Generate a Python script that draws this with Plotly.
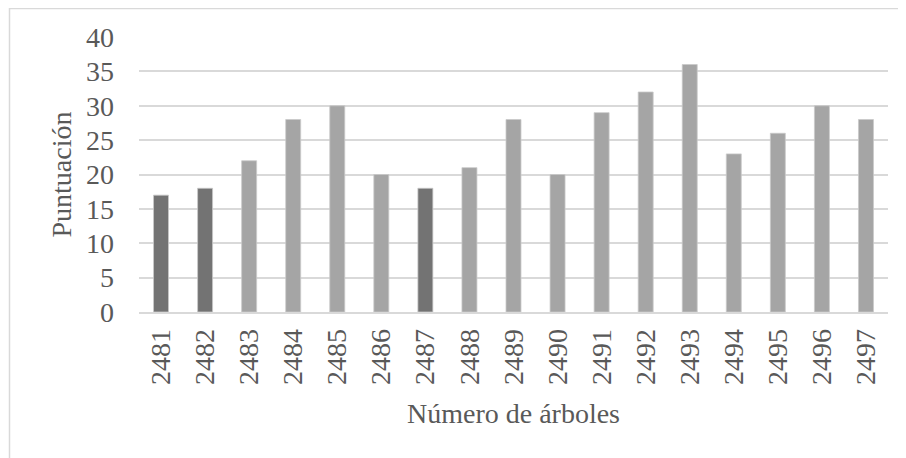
import plotly.graph_objects as go

categories = ["2481", "2482", "2483", "2484", "2485", "2486", "2487", "2488", "2489",
              "2490", "2491", "2492", "2493", "2494", "2495", "2496", "2497"]
values = [17, 18, 22, 28, 30, 20, 18, 21, 28, 20, 29, 32, 36, 23, 26, 30, 28]
highlighted = ["2481", "2482", "2487"]

dark = "#737373"
light = "#a5a5a5"
colors = [dark if c in highlighted else light for c in categories]

font_family = "Liberation Serif, Times New Roman, serif"
text_color = "#595959"

fig = go.Figure()
fig.add_trace(go.Bar(
    x=categories, y=values,
    marker=dict(color=colors, line=dict(color="#c9c9c9", width=0.8)),
    width=0.34,
))

W, H = 906, 458
# page body has an 8px offset, so margins are relative to the figure itself
ml, mr, mt, mb = 131, 26, 29, 154
pw = W - ml - mr
ph = H - mt - mb

def px_to_paper_x(px):
    return (px - ml) / pw

def px_to_paper_y(py):
    return (H - mb - py) / ph

fig.update_layout(
    width=W, height=H,
    margin=dict(l=ml, r=mr, t=mt, b=mb, pad=0),
    paper_bgcolor="white", plot_bgcolor="white",
    font=dict(family=font_family, size=28, color=text_color),
    showlegend=False,
    bargap=0.66,
    xaxis=dict(
        type="category",
        automargin=False,
        tickangle=-90,
        tickfont=dict(size=28, color=text_color),
        showgrid=False,
        showline=True, linecolor="#d9d9d9", linewidth=1.5,
        ticks="", ticklabelstandoff=4,
        title=dict(text="Número de árboles", font=dict(size=28, color=text_color), standoff=19),
    ),
    yaxis=dict(
        automargin=False,
        range=[0, 40],
        tickvals=[0, 5, 10, 15, 20, 25, 30, 35, 40],
        tickfont=dict(size=28, color=text_color),
        showgrid=True, gridcolor="#d9d9d9", gridwidth=1.5,
        zeroline=False, showline=False,
        ticks="", ticklabelstandoff=24,
        title=dict(text="Puntuación", font=dict(size=28, color=text_color), standoff=6),
    ),
    shapes=[dict(
        type="rect", xref="paper", yref="paper",
        x0=px_to_paper_x(1.5), x1=px_to_paper_x(930),
        y0=px_to_paper_y(480), y1=px_to_paper_y(0.5),
        line=dict(color="#d9d9d9", width=1.5),
        fillcolor="rgba(0,0,0,0)", layer="below",
    )],
)

fig.write_html("out.html")
